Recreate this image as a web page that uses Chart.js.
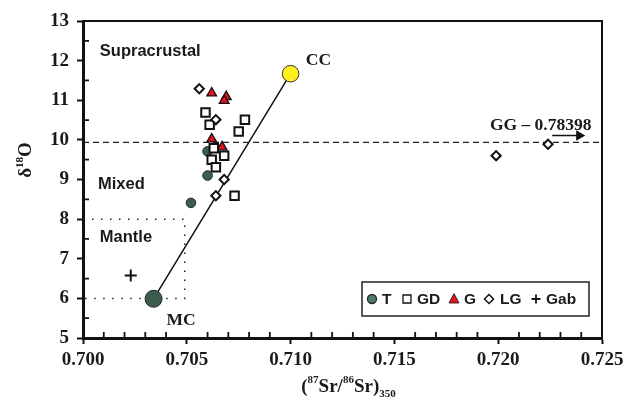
<!DOCTYPE html>
<html>
<head>
<meta charset="utf-8">
<script src="https://cdn.jsdelivr.net/npm/chart.js@4.4.1/dist/chart.umd.min.js"></script>
<style>
  html, body { margin: 0; padding: 0; background: #fff; }
  canvas { display: block; }
</style>
</head>
<body>
<canvas id="c" width="630" height="401"></canvas>
<script>
// Sample groups: 87Sr/86Sr (initial, 350 Ma) vs δ18O
const tX   = [0.7060, 0.7060, 0.7052];
const tY   = [9.71, 9.10, 8.41];
const gdX  = [0.7059, 0.7061, 0.7078, 0.7075, 0.7063, 0.7068, 0.7062, 0.7064, 0.7073];
const gdY  = [10.69, 10.38, 10.51, 10.21, 9.79, 9.60, 9.50, 9.31, 8.59];
const gX   = [0.7062, 0.7069, 0.7068, 0.7062, 0.7067];
const gY   = [11.18, 11.09, 10.99, 10.02, 9.82];
const lgX  = [0.7056, 0.7064, 0.7068, 0.7064, 0.7199, 0.7224];
const lgY  = [11.29, 10.51, 9.00, 8.59, 9.60, 9.89];
const gabX = [0.7023];
const gabY = [6.58];

// End-members: mantle (MC) and continental crust (CC)
const mcX = 0.7034, mcY = 5.99;
const ccX = 0.7100, ccY = 11.67;

// Reference line for GG (off-scale Sr ratio) and its arrow
const ggY = 9.935;
const ggArrowX = [0.7226, 0.7239];
const ggArrowY = 10.11;

// Mantle field box
const mantleSrMax = 0.7049;
const mantleO = [6, 8];

// Axis ticks
const xTicks = [0.700, 0.705, 0.710, 0.715, 0.720, 0.725];
const xTickLabels = ['0.700', '0.705', '0.710', '0.715', '0.720', '0.725'];
const yTicks = [5, 6, 7, 8, 9, 10, 11, 12, 13];

// Field and end-member labels
const notes = [
  { text: 'Supracrustal', x: 0.70081, y: 12.25, font: 'sans' },
  { text: 'Mixed',        x: 0.70072, y: 8.91,  font: 'sans' },
  { text: 'Mantle',       x: 0.70081, y: 7.57,  font: 'sans' },
  { text: 'CC',           x: 0.71073, y: 12.03, font: 'serif' },
  { text: 'MC',           x: 0.70402, y: 5.47,  font: 'serif' },
  { text: 'GG \u2013 0.78398', x: 0.71960, y: 10.38, font: 'serif' }
];

const SERIF = '"Liberation Serif", "Times New Roman", serif';
const SANS = '"Liberation Sans", Arial, sans-serif';
const T_GREEN = '#3d5c4e';
const G_RED = '#e4121b';

const pts = (xs, ys) => xs.map((x, i) => ({ x: x, y: ys[i] }));

const datasets = [
  { label: 'LG', data: pts(lgX, lgY), pointStyle: 'rectRot', pointRadius: 4.6,
    backgroundColor: '#fff', borderColor: '#111', borderWidth: 2, order: 1 },
  { label: 'GD', data: pts(gdX, gdY), pointStyle: 'rect', pointRadius: 6,
    backgroundColor: '#fff', borderColor: '#111', borderWidth: 2, order: 2 },
  { label: 'G', data: pts(gX, gY), pointStyle: 'triangle', pointRadius: 5.6,
    backgroundColor: G_RED, borderColor: '#111', borderWidth: 1.3, order: 3 },
  { label: 'T', data: pts(tX, tY), pointStyle: 'circle', pointRadius: 4.8,
    backgroundColor: T_GREEN, borderColor: '#1c2b24', borderWidth: 1, order: 4 },
  { label: 'Gab', data: pts(gabX, gabY), pointStyle: 'cross', pointRadius: 6,
    borderColor: '#111', borderWidth: 2, order: 4 },
  { label: 'CC', data: [{ x: ccX, y: ccY }], pointStyle: 'circle', pointRadius: 8.3,
    backgroundColor: '#ffef1e', borderColor: '#333', borderWidth: 1, order: 5 },
  { label: 'MC', data: [{ x: mcX, y: mcY }], pointStyle: 'circle', pointRadius: 8.5,
    backgroundColor: T_GREEN, borderColor: '#1c2b24', borderWidth: 1, order: 5 },
  { label: 'mixing', data: [{ x: mcX, y: mcY }, { x: ccX, y: ccY }], showLine: true,
    pointRadius: 0, borderColor: '#111', borderWidth: 1.5, order: 10 },
  { label: 'GG', data: [{ x: xTicks[0], y: ggY }, { x: xTicks[xTicks.length - 1], y: ggY }],
    showLine: true, pointRadius: 0, borderColor: '#222', borderWidth: 1.2,
    borderDash: [6, 4], order: 11 },
  { label: 'GG arrow', data: [{ x: ggArrowX[0], y: ggArrowY }, { x: ggArrowX[1], y: ggArrowY }],
    showLine: true, pointRadius: [0, 4.5], pointStyle: 'triangle', pointRotation: 90,
    backgroundColor: '#111', borderColor: '#111', borderWidth: 1.5, order: 11 },
  { label: 'mantle box',
    data: [{ x: xTicks[0], y: mantleO[1] }, { x: mantleSrMax, y: mantleO[1] },
           { x: mantleSrMax, y: mantleO[0] }, { x: xTicks[0], y: mantleO[0] }],
    showLine: true, pointRadius: 0, borderColor: '#222', borderWidth: 1.5,
    borderDash: [1.5, 7.5], order: 12 }
];

// Minor ticks (inward), frame, labels, axis titles and legend
const decor = {
  id: 'decor',
  afterDatasetsDraw(chart) {
    const ctx = chart.ctx;
    const xs = chart.scales.x, ys = chart.scales.y;
    const a = chart.chartArea;
    ctx.save();

    // top and right frame lines
    ctx.strokeStyle = '#111';
    ctx.lineWidth = 2;
    ctx.beginPath();
    ctx.moveTo(a.left, a.top); ctx.lineTo(a.right, a.top); ctx.lineTo(a.right, a.bottom);
    ctx.stroke();

    // inward minor ticks
    ctx.lineWidth = 1.8;
    ctx.beginPath();
    for (let i = 1; i < 25; i++) {
      if (i % 5 === 0) continue;
      const px = xs.getPixelForValue(0.700 + i * 0.001);
      ctx.moveTo(px, a.bottom); ctx.lineTo(px, a.bottom - 6);
    }
    for (let v = 5.5; v < 13; v += 1) {
      const py = ys.getPixelForValue(v);
      ctx.moveTo(a.left, py); ctx.lineTo(a.left + 6, py);
    }
    ctx.stroke();

    // text notes
    ctx.fillStyle = '#1a1a1a';
    ctx.textBaseline = 'middle';
    ctx.textAlign = 'left';
    notes.forEach(n => {
      ctx.font = n.font === 'sans' ? 'bold 16.5px ' + SANS : 'bold 17.5px ' + SERIF;
      ctx.fillText(n.text, xs.getPixelForValue(n.x), ys.getPixelForValue(n.y) + 1);
    });

    // y axis title: δ18O
    ctx.save();
    ctx.translate(31, 160);
    ctx.rotate(-Math.PI / 2);
    ctx.textBaseline = 'alphabetic';
    const big = 'bold 19px ' + SERIF, small = 'bold 11px ' + SERIF;
    ctx.font = big; const wd = ctx.measureText('\u03b4').width;
    const wo = ctx.measureText('O').width;
    ctx.font = small; const w18 = ctx.measureText('18').width;
    let cx = -(wd + w18 + wo) / 2;
    ctx.font = big; ctx.fillText('\u03b4', cx, 0); cx += wd;
    ctx.font = small; ctx.fillText('18', cx, -8); cx += w18;
    ctx.font = big; ctx.fillText('O', cx, 0);
    ctx.restore();

    // x axis title: (87Sr/86Sr)350
    const parts = [
      ['(', big, 0], ['87', small, -9], ['Sr/', big, 0], ['86', small, -9],
      ['Sr)', big, 0], ['350', small, 5]
    ];
    let tw = 0;
    parts.forEach(p => { ctx.font = p[1]; tw += ctx.measureText(p[0]).width; });
    let tx = (a.left + a.right) / 2 - tw / 2 + 6;
    ctx.textBaseline = 'alphabetic';
    parts.forEach(p => {
      ctx.font = p[1];
      ctx.fillText(p[0], tx, 392 + p[2]);
      tx += ctx.measureText(p[0]).width;
    });

    // legend
    const L = { left: 362, top: 282, right: 589, bottom: 316 };
    const ly = (L.top + L.bottom) / 2;
    ctx.fillStyle = '#fff';
    ctx.fillRect(L.left, L.top, L.right - L.left, L.bottom - L.top);
    ctx.strokeStyle = '#222';
    ctx.lineWidth = 1.5;
    ctx.strokeRect(L.left, L.top, L.right - L.left, L.bottom - L.top);

    ctx.lineWidth = 1.3;
    // T
    ctx.beginPath(); ctx.arc(372, ly, 4.5, 0, Math.PI * 2);
    ctx.fillStyle = '#4f7a72'; ctx.fill(); ctx.strokeStyle = '#1c2b24'; ctx.stroke();
    // GD
    ctx.strokeStyle = '#111';
    ctx.fillStyle = '#fff';
    ctx.beginPath(); ctx.rect(403, ly - 4, 8, 8); ctx.fill(); ctx.stroke();
    // G
    ctx.beginPath(); ctx.moveTo(454, ly - 5.5); ctx.lineTo(459, ly + 4); ctx.lineTo(449, ly + 4);
    ctx.closePath(); ctx.fillStyle = G_RED; ctx.fill(); ctx.lineWidth = 0.8; ctx.stroke();
    // LG
    ctx.lineWidth = 1.5;
    ctx.beginPath(); ctx.moveTo(489, ly - 4.5); ctx.lineTo(493.5, ly); ctx.lineTo(489, ly + 4.5);
    ctx.lineTo(484.5, ly); ctx.closePath(); ctx.fillStyle = '#fff'; ctx.fill(); ctx.stroke();
    // Gab
    ctx.lineWidth = 1.8;
    ctx.beginPath(); ctx.moveTo(531.5, ly); ctx.lineTo(540.5, ly);
    ctx.moveTo(536, ly - 4.5); ctx.lineTo(536, ly + 4.5); ctx.stroke();

    ctx.fillStyle = '#1a1a1a';
    ctx.font = 'bold 15.5px ' + SANS;
    ctx.textBaseline = 'middle';
    [['T', 382], ['GD', 417], ['G', 464], ['LG', 500], ['Gab', 546]].forEach(t => {
      ctx.fillText(t[0], t[1], ly + 1);
    });

    ctx.restore();
  }
};

new Chart(document.getElementById('c'), {
  type: 'scatter',
  data: { datasets: datasets },
  options: {
    responsive: false,
    animation: false,
    events: [],
    layout: { padding: { left: 0, top: 21, right: 28, bottom: 0 } },
    plugins: { legend: { display: false }, tooltip: { enabled: false } },
    scales: {
      x: {
        type: 'linear',
        min: xTicks[0], max: xTicks[xTicks.length - 1],
        afterFit: s => { s.height = 63; },
        afterBuildTicks: s => { s.ticks = xTicks.map(v => ({ value: v })); },
        ticks: {
          autoSkip: false, maxRotation: 0, padding: 5, color: '#1a1a1a',
          font: { family: SERIF, size: 19, weight: 'bold' },
          callback: (v, i) => xTickLabels[i]
        },
        grid: { display: true, drawOnChartArea: false, drawTicks: true,
                tickLength: 6, tickWidth: 2, tickColor: '#111' },
        border: { display: true, width: 3, color: '#111' }
      },
      y: {
        type: 'linear',
        min: yTicks[0], max: yTicks[yTicks.length - 1],
        afterFit: s => { s.width = 83; },
        afterBuildTicks: s => { s.ticks = yTicks.map(v => ({ value: v })); },
        ticks: {
          autoSkip: false, padding: 8, color: '#1a1a1a',
          font: { family: SERIF, size: 19, weight: 'bold' },
          callback: v => String(v)
        },
        grid: { display: true, drawOnChartArea: false, drawTicks: true,
                tickLength: 6, tickWidth: 2, tickColor: '#111' },
        border: { display: true, width: 3, color: '#111' }
      }
    }
  },
  plugins: [decor, {
    id: 'bg',
    beforeDraw(chart) {
      const c = chart.ctx; c.save(); c.fillStyle = '#fff';
      c.fillRect(0, 0, chart.width, chart.height); c.restore();
    }
  }]
});
</script>
</body>
</html>
